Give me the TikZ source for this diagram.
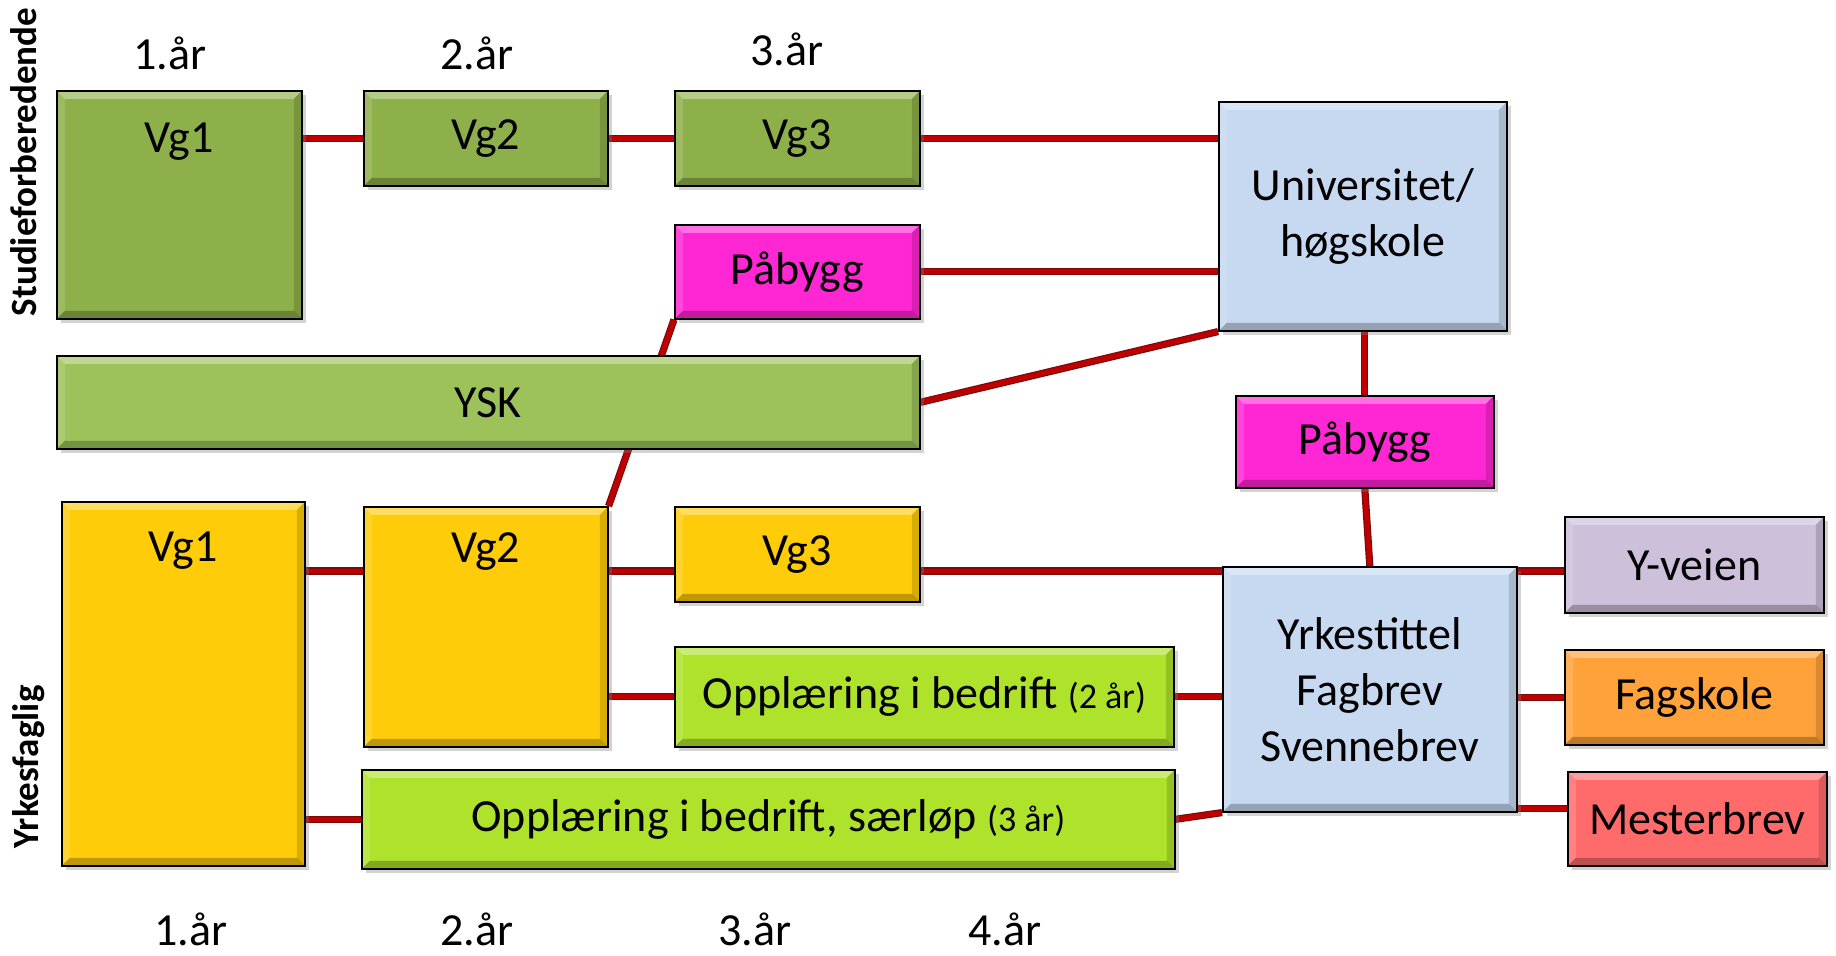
\documentclass[tikz,border=0pt]{standalone}
\usepackage{fontspec}
\setmainfont{Carlito}
\usetikzlibrary{shadows,backgrounds}
\definecolor{CStudGreen}{HTML}{8EB04A}
\definecolor{CYskGreen}{HTML}{9DC25A}
\definecolor{CPink}{HTML}{FF26D3}
\definecolor{CPaleBlue}{HTML}{C6D9F0}
\definecolor{CYellow}{HTML}{FFCC0A}
\definecolor{CLime}{HTML}{AEE22B}
\definecolor{CLilac}{HTML}{CCC0DA}
\definecolor{COrange}{HTML}{FFA23A}
\definecolor{CSalmon}{HTML}{FF6B6B}
\definecolor{CLinkRed}{HTML}{C00000}
\definecolor{CLinkDark}{HTML}{7A0A0A}
\newcommand{\boxfont}{\fontsize{23}{28}\selectfont}
\newcommand{\yearsmall}{\fontsize{18}{20}\selectfont}

\begin{document}
\begin{tikzpicture}[x=0.5pt, y=-0.5pt,
    box/.style={draw, thick, anchor=north west, inner sep=0pt, font=\boxfont, align=center,
      drop shadow={shadow xshift=2pt, shadow yshift=-2pt, opacity=0.35}, bevel},
    bevel/.style={path picture={
      \fill[white, opacity=0.35] (path picture bounding box.north west) -- (path picture bounding box.north east)
        -- ([shift={(-4pt,-4pt)}]path picture bounding box.north east) -- ([shift={(4pt,-4pt)}]path picture bounding box.north west) -- cycle;
      \fill[white, opacity=0.15] (path picture bounding box.north west) -- (path picture bounding box.south west)
        -- ([shift={(4pt,4pt)}]path picture bounding box.south west) -- ([shift={(4pt,-4pt)}]path picture bounding box.north west) -- cycle;
      \fill[black, opacity=0.25] (path picture bounding box.south west) -- (path picture bounding box.south east)
        -- ([shift={(-4pt,4pt)}]path picture bounding box.south east) -- ([shift={(4pt,4pt)}]path picture bounding box.south west) -- cycle;
      \fill[black, opacity=0.15] (path picture bounding box.north east) -- (path picture bounding box.south east)
        -- ([shift={(-4pt,4pt)}]path picture bounding box.south east) -- ([shift={(-4pt,-4pt)}]path picture bounding box.north east) -- cycle;
    }},
    toptext/.style={anchor=center, yshift=-25pt, font=\boxfont},
    link/.style={draw=CLinkRed, line width=2.4pt, preaction={draw=CLinkDark, line width=3.6pt}},
    year/.style={font=\boxfont, inner sep=0pt},
    side/.style={font=\bfseries\fontsize{18.5}{20}\selectfont, rotate=90}
]
  \useasboundingbox (0,0) rectangle (1836,956);

  % studieforberedende
  \node[box, fill=CStudGreen, minimum width=122.5pt, minimum height=114pt, label={[toptext, yshift=-1pt]north:Vg1}] (svgone) at (56,90) {};
  \node[box, fill=CStudGreen, minimum width=122pt, minimum height=47.5pt] (svgtwo) at (363,90) {Vg2};
  \node[box, fill=CStudGreen, minimum width=122.5pt, minimum height=47.5pt] (svgthree) at (674,90) {Vg3};
  \node[box, fill=CPink, minimum width=122.5pt, minimum height=47pt] (pabyggone) at (674,224) {Påbygg};
  \node[box, fill=CPaleBlue, minimum width=144pt, minimum height=114.5pt] (univ) at (1218,101) {Universitet/\\høgskole};
  \node[box, fill=CYskGreen, minimum width=431.5pt, minimum height=46.5pt] (ysk) at (56,355) {YSK};
  \node[box, fill=CPink, minimum width=129pt, minimum height=46pt] (pabyggtwo) at (1235,395) {Påbygg};

  % yrkesfaglig
  \node[box, fill=CYellow, minimum width=121.5pt, minimum height=182pt, label={[toptext]north:Vg1}] (yvgone) at (61,501) {};
  \node[box, fill=CYellow, minimum width=122pt, minimum height=120pt, label={[toptext, yshift=2pt]north:Vg2}] (yvgtwo) at (363,506) {};
  \node[box, fill=CYellow, minimum width=122.5pt, minimum height=47.5pt] (yvgthree) at (674,506) {Vg3};
  \node[box, fill=CLime, minimum width=249.5pt, minimum height=50pt] (oibtwo) at (674,646) {Opplæring i bedrift {\yearsmall(2 år)}};
  \node[box, fill=CLime, minimum width=406.5pt, minimum height=49.5pt] (oibthree) at (361,769) {Opplæring i bedrift, særløp {\yearsmall(3 år)}};
  \node[box, fill=CPaleBlue, minimum width=147pt, minimum height=122.5pt] (yrke) at (1222,566) {Yrkestittel\\Fagbrev\\Svennebrev};
  \node[box, fill=CLilac, minimum width=129.5pt, minimum height=48pt] (yveien) at (1564,516) {Y-veien};
  \node[box, fill=COrange, minimum width=129.5pt, minimum height=47.5pt] (fagskole) at (1564,649) {Fagskole};
  \node[box, fill=CSalmon, minimum width=129.5pt, minimum height=47pt] (mester) at (1567,771) {Mesterbrev};

  % years and sides
  \node[year] (toponeyr) at (170,53) {1.år};
  \node[year] (toptwoyr) at (477,53) {2.år};
  \node[year] (topthreeyr) at (787,49) {3.år};
  \node[year] (botoneyr) at (191,929) {1.år};
  \node[year] (bottwoyr) at (477,929) {2.år};
  \node[year] (botthreeyr) at (755,929) {3.år};
  \node[year] (botfouryr) at (1005,929) {4.år};
  \node[side] (studlabel) at (24,162) {Studieforberedende};
  \node[side] (yrklabel) at (29,767) {Yrkesfaglig};

  \coordinate (vrow) at ([yshift=-2.5pt]yrke.north);

  \begin{scope}[on background layer]
    \draw[link] (svgone.east |- svgtwo.west) -- (svgtwo.west);
    \draw[link] (svgtwo) -- (svgthree);
    \draw[link] (svgthree) -- (svgthree -| univ.west);
    \draw[link] (pabyggone) -- (pabyggone -| univ.west);
    \draw[link] (ysk.east) -- (univ.south west);
    \draw[link] (pabyggtwo.north |- univ.south) -- (pabyggtwo.north);
    \draw[link] (pabyggtwo.south) -- (yrke.north);
    \draw[link] (yvgtwo.north east) -- (pabyggone.south west);
    \draw[link] (yvgone.east |- vrow) -- (yvgtwo.west |- vrow);
    \draw[link] (yvgtwo.east |- vrow) -- (yvgthree.west |- vrow);
    \draw[link] (yvgthree.east |- vrow) -- (yrke.west |- vrow);
    \draw[link] (yvgtwo.east |- oibtwo) -- (oibtwo.west);
    \draw[link] (oibtwo.east) -- (oibtwo -| yrke.west);
    \draw[link] (yvgone.east |- oibthree) -- (oibthree.west);
    \draw[link] (oibthree.east) -- (yrke.south west);
    \draw[link] (yrke.east |- vrow) -- (yveien.west |- vrow);
    \draw[link] (yrke.east |- fagskole) -- (fagskole.west);
    \draw[link] ([yshift=2pt]yrke.south east) -- ([yshift=2pt]yrke.south east -| mester.west);
  \end{scope}
\end{tikzpicture}
\end{document}
